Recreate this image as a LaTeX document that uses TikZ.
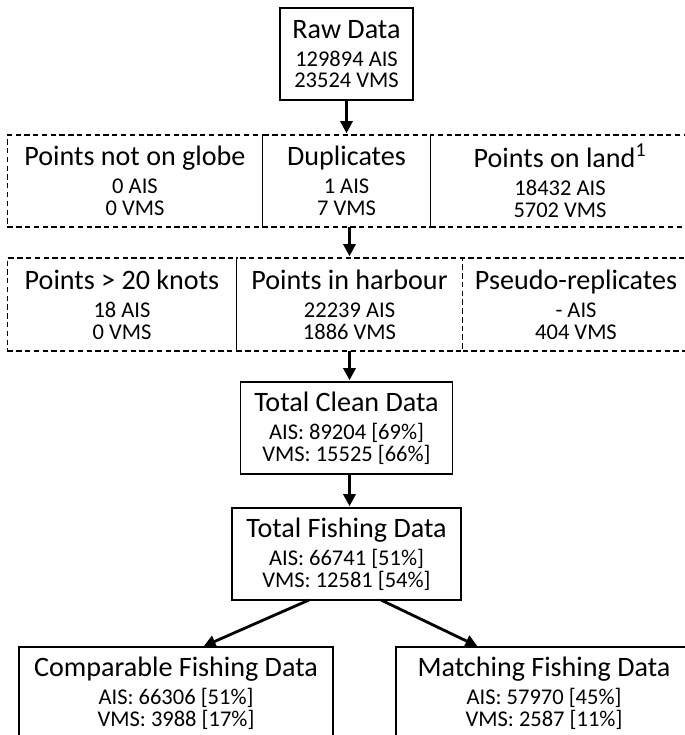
\documentclass[tikz,border=0pt]{standalone}
\usepackage{fontspec}
\setmainfont{Carlito}
\usetikzlibrary{arrows.meta}
\usetikzlibrary{positioning}
\newcommand{\headfont}{\fontsize{16}{19}\selectfont}
\newcommand{\countfont}{\fontsize{12.8}{12.4}\selectfont}
\tikzset{
  databox/.style={
    draw,
    line width=0.6pt,
    outer sep=0pt,
    align=center,
    font=\countfont,
    minimum height=1.84cm
  },
  filterbox/.style={
    databox,
    dash pattern=on 3pt off 2pt
  },
  thickarrow/.style={
    line width=1.6pt,
    shorten >=1pt,
    -{Triangle[length=2.4mm, width=2.4mm]}
  }
}

\begin{document}
\begin{tikzpicture}

\useasboundingbox (0,0) rectangle (13.68,-14.7);

% Raw data
\node [databox,
    minimum width=2.66cm
] (raw) at (6.93,-1.08) {{\headfont Raw Data}\\[3.5pt]129894 AIS\\23524 VMS};

% First filter row
\node [filterbox,
    minimum width=3.36cm,
    below=0.7cm of raw
] (dup) {{\headfont Duplicates}\\[3.5pt]1 AIS\\7 VMS};

\node [filterbox,
    minimum width=5.1cm,
    left=0cm of dup
] (globe) {{\headfont Points not on globe}\\[3.5pt]0 AIS\\0 VMS};

\node [filterbox,
    minimum width=5.18cm,
    right=0cm of dup
] (land) {{\headfont Points on land\textsuperscript{1}}\\[3.5pt]18432 AIS\\5702 VMS};

% Second filter row
\node [filterbox,
    minimum width=4.52cm,
    minimum height=1.86cm,
    below=0.62cm of dup,
    xshift=0.06cm
] (harbour) {{\headfont Points in harbour}\\[3.5pt]22239 AIS\\1886 VMS};

\node [filterbox,
    minimum width=4.58cm,
    minimum height=1.86cm,
    left=0cm of harbour
] (speed) {{\headfont Points > 20 knots}\\[3.5pt]18 AIS\\0 VMS};

\node [filterbox,
    minimum width=4.54cm,
    minimum height=1.86cm,
    right=0cm of harbour
] (pseudo) {{\headfont Pseudo-replicates}\\[3.5pt]- AIS\\404 VMS};

\draw[line width=0.6pt] (harbour.north west) -- (harbour.south west);

% Cleaned and fishing data
\node [databox,
    minimum width=4.24cm,
    below=0.62cm of harbour,
    xshift=-0.06cm
] (clean) {{\headfont Total Clean Data}\\[3.5pt]AIS: 89204 [69\%]\\VMS: 15525 [66\%]};

\node [databox,
    minimum width=4.58cm,
    below=0.68cm of clean
] (fishing) {{\headfont Total Fishing Data}\\[3.5pt]AIS: 66741 [51\%]\\VMS: 12581 [54\%]};

\node [databox,
    minimum width=6.28cm,
    below left=0.94cm and -2.02cm of fishing
] (comparable) {{\headfont Comparable Fishing Data}\\[3.5pt]AIS: 66306 [51\%]\\VMS: 3988 [17\%]};

\node [databox,
    minimum width=5.92cm,
    below right=0.94cm and -1.3cm of fishing
] (matching) {{\headfont Matching Fishing Data}\\[3.5pt]AIS: 57970 [45\%]\\VMS: 2587 [11\%]};

\draw[thickarrow] (raw.south) -- (raw.south |- dup.north);
\draw[thickarrow] (harbour.north |- dup.south) -- (harbour.north);
\draw[thickarrow] (harbour.south) -- (harbour.south |- clean.north);
\draw[thickarrow] ([xshift=0.06cm]clean.south) -- ([xshift=0.06cm]clean.south |- fishing.north);
\draw[thickarrow] ([xshift=-0.75cm]fishing.south) -- ([xshift=0.52cm]comparable.north);
\draw[thickarrow] ([xshift=0.69cm]fishing.south) -- ([xshift=-1.3cm]matching.north);

\end{tikzpicture}
\end{document}
